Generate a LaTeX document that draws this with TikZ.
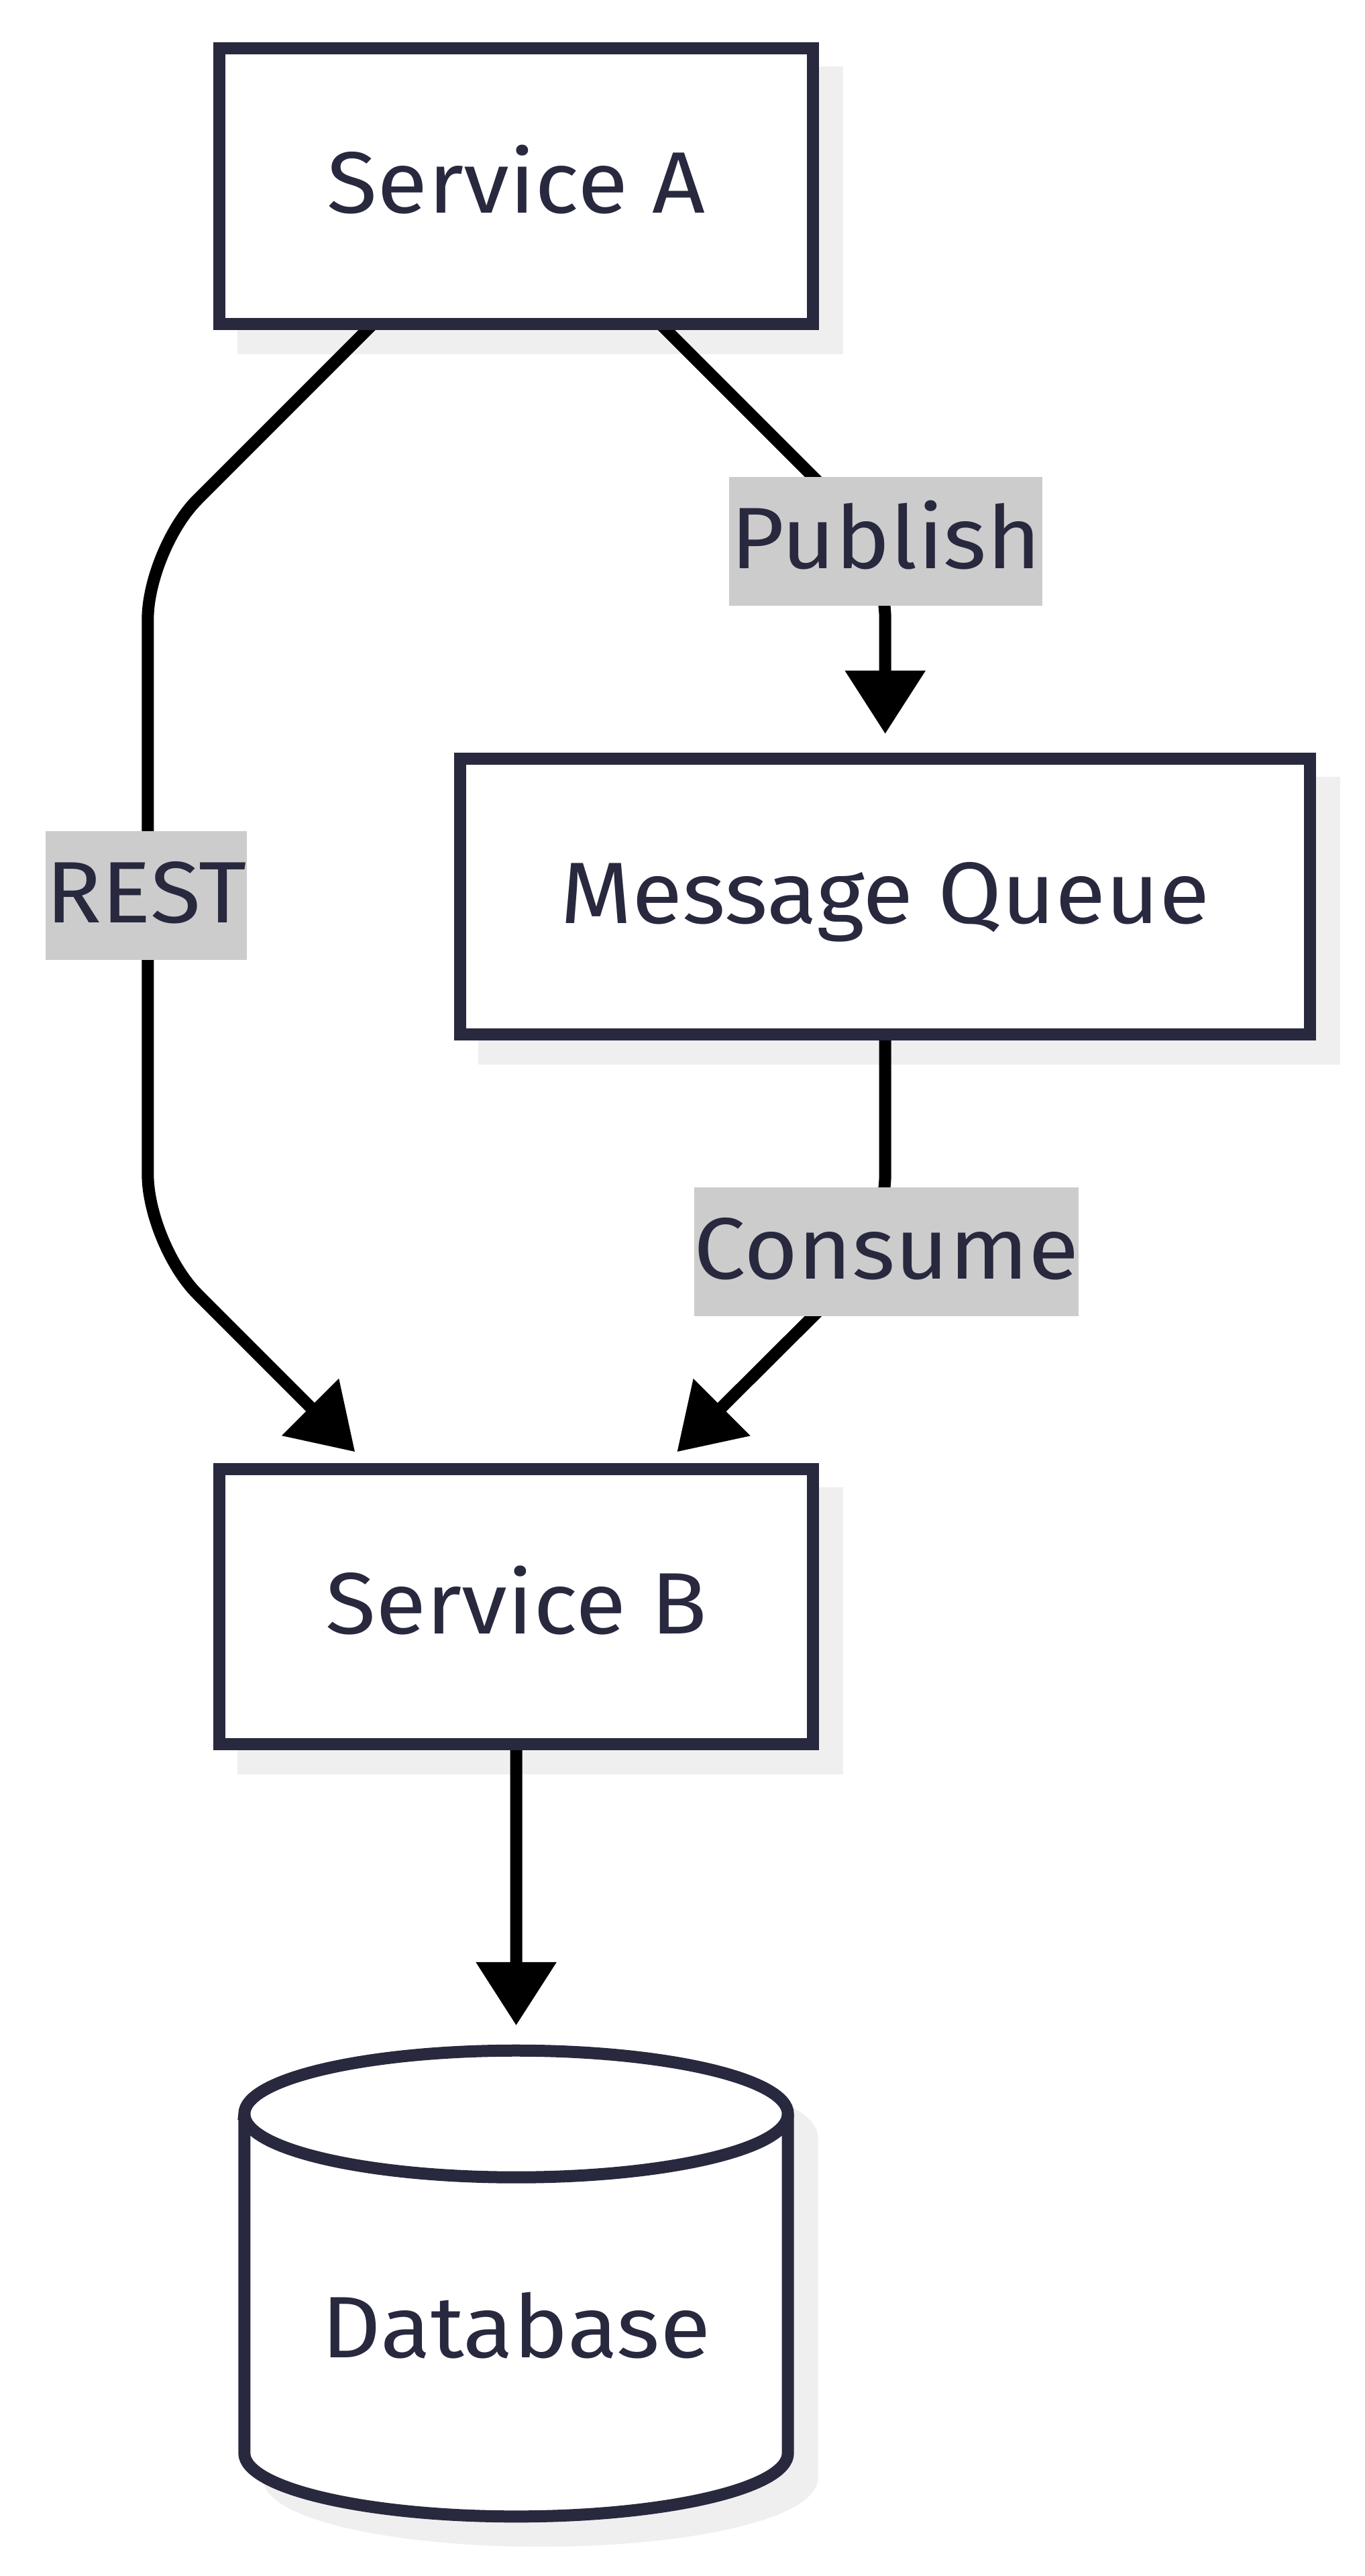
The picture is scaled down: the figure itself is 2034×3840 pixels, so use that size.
\documentclass[tikz,border=0pt]{standalone}
\usepackage{fontspec}
\setmainfont{Fira Sans}[FakeStretch=1.06]
\usetikzlibrary{arrows.meta,calc}
\definecolor{ink}{HTML}{28283E}
\definecolor{shc}{HTML}{EFEFEF}
\definecolor{lblbg}{HTML}{CCCCCC}
\pgfdeclarelayer{shad}
\pgfdeclarelayer{bg}
\pgfsetlayers{shad,bg,main}
\tikzset{
  txtfont/.style={font=\fontsize{32.5pt}{39pt}\selectfont, text=ink, text height=23pt, text depth=3pt},
  box/.style={draw=ink, line width=4.5pt, fill=white, txtfont, inner sep=0pt},
  lbl/.style={fill=lblbg, txtfont, inner xsep=0pt, inner ysep=0pt, minimum height=47.9pt},
  edge/.style={draw=black, line width=4.5pt, -{Triangle[length=23.6pt,width=28.9pt]}},
  cylline/.style={draw=ink, line width=4.5pt, fill=white},
  cylshadow/.style={draw=shc, line width=4.5pt, fill=shc},
}
\begin{document}
\begin{tikzpicture}[x=0.25pt, y=-0.25pt]
\useasboundingbox (0,0) rectangle (2034,3840);
% nodes
\node[box, minimum width=221.25pt, minimum height=102.75pt] (sa) at (769.7,277.8) {Service A};
\node[box, minimum width=316.75pt, minimum height=102.6pt] (mq) at (1319.7,1336.5) {Message Queue};
\node[box, minimum width=221.25pt, minimum height=102.7pt] (sb) at (769.7,2395) {Service B};
\node[txtfont, inner sep=0pt] (db) at (769.5,3474) {Database};
\coordinate (dbtop) at (769.5,3047.7);
% edge labels
\node[lbl, minimum width=116.75pt] (lpub) at (1320.5,807) {Publish};
\node[lbl, minimum width=73.5pt] (lrest) at (218,1335) {REST};
\node[lbl, minimum width=141.25pt] (lcon) at (1321.4,1866) {Consume};
% shadows
\begin{pgfonlayer}{shad}
  \fill[white] (0,0) rectangle (2034,3840);
  \fill[shc] ($(sa.north west)+(36,36)$) rectangle ($(sa.south east)+(36,36)$);
  \fill[shc] ($(mq.north west)+(36,36)$) rectangle ($(mq.south east)+(36,36)$);
  \fill[shc] ($(sb.north west)+(36,36)$) rectangle ($(sb.south east)+(36,36)$);
  \path[cylshadow] ($(dbtop)+(-369.2,139.5)$) -- ($(dbtop)+(-369.2,645.1)$)
    arc[start angle=180,end angle=360,x radius=101.3pt,y radius=23.625pt]
    -- ($(dbtop)+(441.2,139.5)$)
    arc[start angle=0,end angle=180,x radius=101.3pt,y radius=23.625pt] -- cycle;
\end{pgfonlayer}
% connectors and cylinder body
\begin{pgfonlayer}{bg}
  \draw[edge, rounded corners=26.25pt] ($(sa.south)+(-214,-9)$) -- (220.3,818.7) -- (220.3,1855) -- ($(sb.north)+(-240.4,-16.3)$);
  \draw[edge, rounded corners=26.25pt] ($(sa.south)+(215.1,-9)$) -- (1319.7,818.2) -- ($(mq.north)+(0,-28.3)$);
  \draw[edge, rounded corners=26.25pt] ($(mq.south)+(0,-9)$) -- (1319.7,1855) -- ($(sb.north)+(239.6,-16.3)$);
  \draw[edge] ($(sb.south)+(0,-9)$) -- ($(dbtop)+(0,-28.4)$);
  \path[cylline] ($(dbtop)+(-405.2,103.5)$) -- ($(dbtop)+(-405.2,609.1)$)
    arc[start angle=180,end angle=360,x radius=101.3pt,y radius=23.625pt]
    -- ($(dbtop)+(405.2,103.5)$)
    arc[start angle=0,end angle=180,x radius=101.3pt,y radius=23.625pt] -- cycle;
  \draw[draw=ink, line width=4.5pt] ($(dbtop)+(-405.2,103.5)$)
    arc[start angle=180,end angle=360,x radius=101.3pt,y radius=23.625pt];
\end{pgfonlayer}
\end{tikzpicture}
\end{document}
